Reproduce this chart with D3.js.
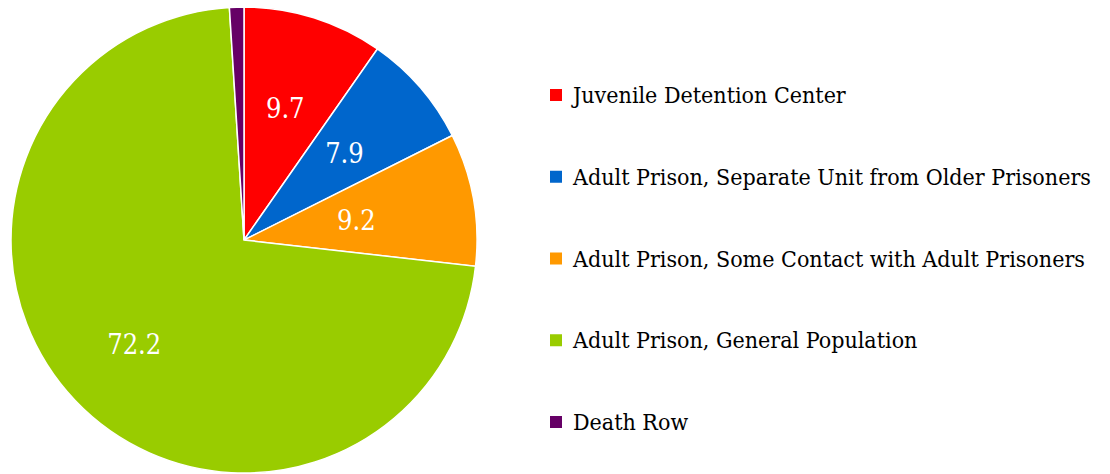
<!DOCTYPE html>
<html><head><meta charset="utf-8">
<script src="https://cdn.jsdelivr.net/npm/d3@7"></script>
<style>body{margin:0;background:#fff;} svg{display:block;} text{font-family:"DejaVu Serif Condensed","DejaVu Serif",serif;font-stretch:condensed;}</style>
</head><body>
<svg id="chart" width="1110" height="474"></svg>
<script>
const categories = ["Juvenile Detention Center","Adult Prison, Separate Unit from Older Prisoners","Adult Prison, Some Contact with Adult Prisoners","Adult Prison, General Population","Death Row"];
const values = [9.7, 7.9, 9.2, 72.2, 1.0];
const labels = ["9.7","7.9","9.2","72.2",""];
const colors = ["#FF0000","#0066CC","#FF9900","#99CC00","#660066"];

const svg = d3.select("#chart");
const cx = 244, cy = 240, R = 233;
// label distance from centre, as a fraction of the radius (layout only)
const labelFrac = [0.59, 0.57, 0.49, 0.65, 0.6];
const data = categories.map((c,i)=>({c, v: values[i], l: labels[i], col: colors[i], i}));
const pie = d3.pie().value(d=>d.v).sort(null);
const arcs = pie(data);
const arc = d3.arc().innerRadius(0).outerRadius(R);
const g = svg.append("g").attr("transform",`translate(${cx},${cy})`);
g.selectAll("path").data(arcs).join("path")
  .attr("d",arc).attr("fill",d=>d.data.col)
  .attr("stroke","#fff").attr("stroke-width",1.5);
g.selectAll("text").data(arcs).join("text")
  .attr("transform",d=>{
    const r = R*labelFrac[d.data.i];
    return `translate(${d3.arc().innerRadius(r).outerRadius(r).centroid(d)})`;
  })
  .attr("text-anchor","middle").attr("dominant-baseline","central")
  .attr("fill","#fff").attr("font-size",27)
  .text(d=>d.data.l);

const y = d3.scalePoint().domain(categories).range([95,422]);
const leg = svg.append("g");
const items = leg.selectAll("g").data(data).join("g")
  .attr("transform",d=>`translate(550,${y(d.c)})`);
items.append("rect").attr("x",0).attr("y",-6).attr("width",12).attr("height",12).attr("fill",d=>d.col);
items.append("text").attr("x",23).attr("y",0).attr("dominant-baseline","central")
  .attr("font-size",23).attr("fill","#000").text(d=>d.c);
</script>
</body></html>
